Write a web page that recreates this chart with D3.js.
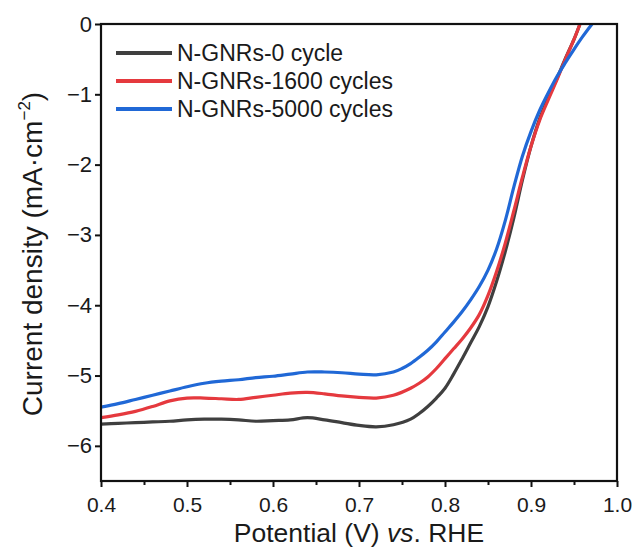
<!DOCTYPE html>
<html>
<head>
<meta charset="utf-8">
<script src="https://cdn.jsdelivr.net/npm/d3@7"></script>
<style>
  html, body { margin: 0; padding: 0; background: #fff; }
  svg text { font-family: "Liberation Sans", Arial, sans-serif; fill: #1a1a1a; }
</style>
</head>
<body>
<svg id="chart" width="638" height="549"></svg>
<script>
// LSV polarization curves: potential (V vs. RHE) against current density (mA·cm⁻²)
const seriesNames = ["N-GNRs-0 cycle", "N-GNRs-1600 cycles", "N-GNRs-5000 cycles"];
const seriesColors = ["#3f3f3f", "#e5393e", "#2068d6"];

const cycle0 = [
  [0.40, -5.69], [0.42, -5.68], [0.44, -5.67], [0.46, -5.66], [0.48, -5.65],
  [0.50, -5.63], [0.52, -5.62], [0.54, -5.62], [0.56, -5.63], [0.58, -5.65],
  [0.60, -5.64], [0.62, -5.63], [0.64, -5.60], [0.66, -5.63], [0.68, -5.67],
  [0.70, -5.71], [0.72, -5.73], [0.74, -5.70], [0.76, -5.62], [0.77, -5.54],
  [0.78, -5.44], [0.79, -5.32], [0.80, -5.18], [0.81, -4.98], [0.82, -4.76],
  [0.83, -4.53], [0.84, -4.30], [0.85, -4.02], [0.86, -3.66], [0.87, -3.24],
  [0.88, -2.76], [0.89, -2.22], [0.90, -1.74], [0.91, -1.35], [0.92, -1.05],
  [0.93, -0.78], [0.94, -0.49], [0.95, -0.22], [0.957, 0.0]
];

const cycle1600 = [
  [0.40, -5.60], [0.42, -5.56], [0.44, -5.51], [0.46, -5.44], [0.48, -5.36],
  [0.50, -5.32], [0.52, -5.32], [0.54, -5.33], [0.56, -5.34], [0.58, -5.31],
  [0.60, -5.28], [0.62, -5.25], [0.64, -5.24], [0.66, -5.26], [0.68, -5.29],
  [0.70, -5.31], [0.72, -5.32], [0.74, -5.28], [0.76, -5.18], [0.77, -5.11],
  [0.78, -5.02], [0.79, -4.90], [0.80, -4.76], [0.81, -4.62], [0.82, -4.48],
  [0.83, -4.32], [0.84, -4.13], [0.85, -3.86], [0.86, -3.52], [0.87, -3.12],
  [0.88, -2.66], [0.89, -2.18], [0.90, -1.74], [0.91, -1.37], [0.92, -1.08],
  [0.93, -0.80], [0.94, -0.50], [0.95, -0.22], [0.957, 0.0]
];

const cycle5000 = [
  [0.40, -5.45], [0.42, -5.40], [0.44, -5.34], [0.46, -5.28], [0.48, -5.22],
  [0.50, -5.16], [0.52, -5.11], [0.54, -5.08], [0.56, -5.06], [0.58, -5.03],
  [0.60, -5.01], [0.62, -4.98], [0.64, -4.95], [0.66, -4.95], [0.68, -4.96],
  [0.70, -4.98], [0.72, -4.99], [0.74, -4.95], [0.75, -4.90], [0.76, -4.83],
  [0.77, -4.74], [0.78, -4.64], [0.79, -4.52], [0.80, -4.38], [0.81, -4.24],
  [0.82, -4.09], [0.83, -3.92], [0.84, -3.73], [0.85, -3.50], [0.86, -3.20],
  [0.87, -2.80], [0.88, -2.32], [0.89, -1.88], [0.90, -1.53], [0.91, -1.23],
  [0.92, -0.98], [0.93, -0.75], [0.94, -0.55], [0.95, -0.36], [0.96, -0.18],
  [0.971, 0.0]
];

const xTicks = [0.4, 0.5, 0.6, 0.7, 0.8, 0.9, 1.0];
const xMinorTicks = [0.45, 0.55, 0.65, 0.75, 0.85, 0.95];
const yTicks = [0, -1, -2, -3, -4, -5, -6];

const allSeries = [cycle0, cycle1600, cycle5000];

const svg = d3.select("#chart");
const plot = { left: 101, top: 24, right: 617, bottom: 481 };

const x = d3.scaleLinear().domain([0.4, 1.0]).range([plot.left, plot.right]);
const y = d3.scaleLinear().domain([-6.5, 0]).range([plot.bottom, plot.top]);

svg.append("defs").append("clipPath").attr("id", "plot-clip")
  .append("rect")
  .attr("x", plot.left).attr("y", plot.top)
  .attr("width", plot.right - plot.left).attr("height", plot.bottom - plot.top);

// curves
const line = d3.line()
  .x(d => x(d[0]))
  .y(d => y(d[1]))
  .curve(d3.curveCatmullRom.alpha(0.5));

const curves = svg.append("g").attr("clip-path", "url(#plot-clip)");
allSeries.forEach((s, i) => {
  curves.append("path")
    .datum(s)
    .attr("fill", "none")
    .attr("stroke", seriesColors[i])
    .attr("stroke-width", 3.2)
    .attr("stroke-linejoin", "round")
    .attr("stroke-linecap", "round")
    .attr("d", line);
});

// frame
svg.append("rect")
  .attr("x", plot.left).attr("y", plot.top)
  .attr("width", plot.right - plot.left).attr("height", plot.bottom - plot.top)
  .attr("fill", "none").attr("stroke", "#111").attr("stroke-width", 2.2);

// x axis
const xAxis = d3.axisBottom(x)
  .tickValues(xTicks)
  .tickFormat(d3.format(".1f"))
  .tickSize(6);
const gx = svg.append("g").attr("transform", `translate(0,${plot.bottom})`).call(xAxis);
gx.select(".domain").remove();
gx.selectAll(".tick line").attr("stroke", "#111").attr("stroke-width", 2);
gx.selectAll(".tick text").attr("font-size", 21).attr("y", 31).attr("dy", null);

const gxm = svg.append("g").attr("transform", `translate(0,${plot.bottom})`)
  .call(d3.axisBottom(x).tickValues(xMinorTicks).tickSize(4).tickFormat(""));
gxm.select(".domain").remove();
gxm.selectAll(".tick line").attr("stroke", "#111").attr("stroke-width", 2);

// y axis
const yAxis = d3.axisLeft(y)
  .tickValues(yTicks)
  .tickFormat(d => d === 0 ? "0" : "\u2212" + Math.abs(d))
  .tickSize(6)
  .tickPadding(3);
const gy = svg.append("g").attr("transform", `translate(${plot.left},0)`).call(yAxis);
gy.select(".domain").remove();
gy.selectAll(".tick line").attr("stroke", "#111").attr("stroke-width", 2);
gy.selectAll(".tick text").attr("font-size", 22);

// axis titles
const xTitle = svg.append("text")
  .attr("x", 359)
  .attr("y", 542)
  .attr("text-anchor", "middle")
  .attr("font-size", 26.5);
xTitle.append("tspan").text("Potential (V) ");
xTitle.append("tspan").attr("font-style", "italic").text("vs");
xTitle.append("tspan").text(". RHE");

const yTitle = svg.append("text")
  .attr("transform", "translate(42,254) rotate(-90)")
  .attr("text-anchor", "middle")
  .attr("font-size", 28);
yTitle.append("tspan").text("Current density (mA\u00B7cm");
yTitle.append("tspan").attr("font-size", 17).attr("dy", -12).text("\u22122");
yTitle.append("tspan").attr("dy", 12).text(")");

// legend
const legend = svg.append("g");
seriesNames.forEach((name, i) => {
  const ly = 53 + i * 28;
  legend.append("line")
    .attr("x1", 116).attr("x2", 172)
    .attr("y1", ly).attr("y2", ly)
    .attr("stroke", seriesColors[i]).attr("stroke-width", 4);
  legend.append("text")
    .attr("x", 177).attr("y", ly)
    .attr("dy", "0.36em")
    .attr("font-size", 23)
    .text(name);
});
</script>
</body>
</html>
